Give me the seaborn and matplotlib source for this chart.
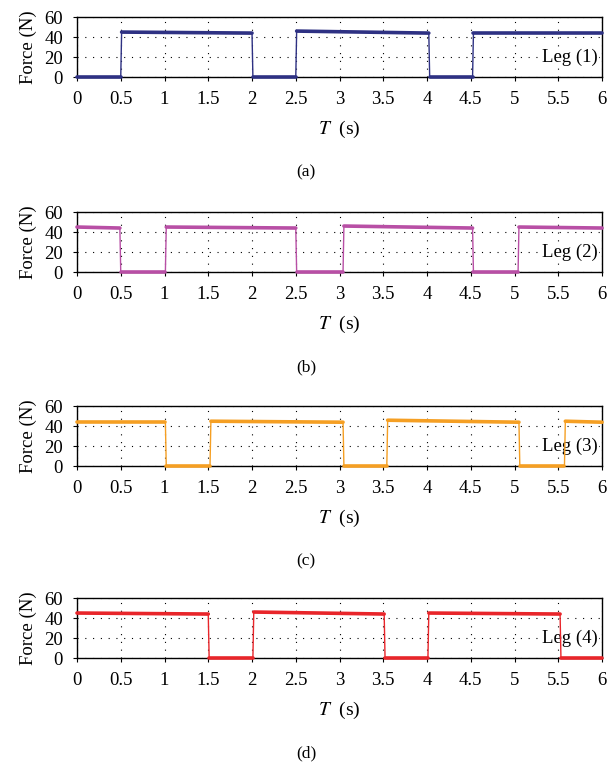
import numpy as np
import pandas as pd
import seaborn as sns
import matplotlib.pyplot as plt

# transition points of each leg (plateau start / end pairs)
leg1_t = [0.0, 0.50, 0.51, 2.00, 2.01, 2.50, 2.51, 4.02, 4.03, 4.52, 4.53, 6.0]
leg1_f = [0, 0, 45, 44, 0, 0, 46, 44, 0, 0, 44, 44]

leg2_t = [0.0, 0.49, 0.50, 1.01, 1.02, 2.50, 2.51, 3.04, 3.05, 4.52, 4.53, 5.04, 5.05, 6.0]
leg2_f = [45, 44, 0, 0, 45, 44, 0, 0, 46, 44, 0, 0, 45, 44]

leg3_t = [0.0, 1.01, 1.02, 1.52, 1.53, 3.04, 3.05, 3.54, 3.55, 5.05, 5.06, 5.57, 5.58, 6.0]
leg3_f = [44, 44, 0, 0, 45, 44, 0, 0, 46, 44, 0, 0, 45, 44]

leg4_t = [0.0, 1.50, 1.51, 2.01, 2.02, 3.51, 3.52, 4.01, 4.02, 5.52, 5.53, 6.0]
leg4_f = [45, 44, 0, 0, 46, 44, 0, 0, 45, 44, 0, 0]

legs = [leg1_t, leg2_t, leg3_t, leg4_t]
forces = [leg1_f, leg2_f, leg3_f, leg4_f]
colors = ["#2e3183", "#b84fa5", "#f59f23", "#e8252a"]
names = ["Leg (1)", "Leg (2)", "Leg (3)", "Leg (4)"]
panels = ["(a)", "(b)", "(c)", "(d)"]

sns.set_style("ticks")
plt.rcParams['font.family'] = ['Liberation Serif', 'DejaVu Serif']
plt.rcParams['mathtext.fontset'] = 'stix'
plt.rcParams['text.color'] = 'black'
plt.rcParams['axes.labelcolor'] = 'black'
plt.rcParams['xtick.color'] = 'black'
plt.rcParams['ytick.color'] = 'black'

fig = plt.figure(figsize=(6.12, 7.63), dpi=100)
bottoms = [0.899, 0.6435, 0.389, 0.1376]

for i in range(4):
    ax = fig.add_axes([0.1258, bottoms[i], 0.858, 0.0786])
    df = pd.DataFrame({"t": legs[i], "f": forces[i]})
    # thin line for the whole trace
    sns.lineplot(data=df, x="t", y="f", ax=ax, color=colors[i], lw=1.0,
                 estimator=None, sort=False, clip_on=False, zorder=3)
    # thick plateaus
    for k in range(0, len(df), 2):
        seg = df.iloc[k:k + 2]
        sns.lineplot(data=seg, x="t", y="f", ax=ax, color=colors[i], lw=2.6,
                     estimator=None, sort=False, clip_on=False, zorder=3)
    ax.set_xlim(0, 6)
    ax.set_ylim(0, 60)
    ax.set_xticks(np.arange(0, 6.01, 0.5))
    ax.set_xticklabels(["0", "0.5", "1", "1.5", "2", "2.5", "3", "3.5", "4",
                        "4.5", "5", "5.5", "6"])
    ax.set_yticks([0, 20, 40, 60])
    ax.tick_params(labelsize=13.5, length=3, width=0.8, direction="out")
    ax.tick_params(axis="x", pad=7)
    ax.tick_params(axis="y", pad=7)
    ax.grid(True, color="black", linestyle=(0, (1, 6)), lw=0.8)
    for s in ax.spines.values():
        s.set_linewidth(1.0)
        s.set_color("black")
    ax.set_xlabel("$T$  (s)", fontsize=14, labelpad=8)
    ax.set_ylabel("Force (N)", fontsize=13.5, labelpad=5)
    ax.text(5.95, 20, names[i], ha="right", va="center", fontsize=13.5, zorder=2,
            bbox=dict(facecolor="white", edgecolor="none", pad=1))
    fig.text(0.5, bottoms[i] - 0.125, panels[i], ha="center", va="center", fontsize=12.5)

fig.savefig("out.png", dpi=100)
